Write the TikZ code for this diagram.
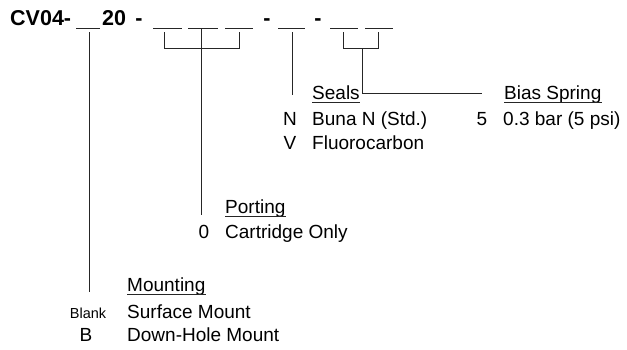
\documentclass[tikz,border=0pt]{standalone}
\usepackage{fontspec}
\setmainfont{Liberation Sans}
\usetikzlibrary{positioning, calc}

\tikzset{
  codetxt/.style={font=\fontsize{21.5}{21.5}\selectfont\bfseries, inner sep=0pt, anchor=base west},
  optxt/.style={font=\fontsize{19}{19}\selectfont, inner sep=0pt, anchor=base west},
  keytxt/.style={font=\fontsize{19}{19}\selectfont, inner sep=0pt, anchor=base},
  blanktxt/.style={font=\fontsize{14.5}{14.5}\selectfont, inner sep=0pt, anchor=base},
  leader/.style={line width=0.9pt, black!85},
  slot/.style={line width=0.9pt, black!85}
}

\begin{document}
\begin{tikzpicture}[x=1pt, y=-1pt]
          \useasboundingbox (0,0) rectangle (627,349);

          % Codigo del modelo
          \node[codetxt] (cv) at (10,25) {CV04-};
          \node[codetxt] (num) at (102,25) {20};
          \node[codetxt, anchor=base] (da) at (139,25) {-};
          \node[codetxt, anchor=base] (db) at (267,25) {-};
          \node[codetxt, anchor=base] (dc) at (318,25) {-};

          % Casillas
          \foreach \a/\b [count=\i] in {76/100, 153/182, 188/218, 225/253, 278/305, 330/358, 365/393}
            \draw[slot] (\a,28) coordinate (s\i l) -- (\b,28) coordinate (s\i r);

          % Montaje
          \coordinate (mtop) at (89,32);
          \coordinate (mbot) at (89,292);
          \draw[leader] (mtop) -- (mbot);

          % Conexiones
          \draw[leader] (164,32) coordinate (pl) |- (239,48) coordinate (pr) -- (239,32);
          \coordinate (ptop) at (201,28);
          \coordinate (pbot) at (201,215);
          \draw[leader] (ptop) -- (pbot);

          % Juntas
          \coordinate (stop) at (292,32);
          \coordinate (sbot) at (292,95);
          \draw[leader] (stop) -- (sbot);

          % Resorte
          \draw[leader] (343,32) coordinate (bl) |- (378,48) coordinate (br) -- (378,32);
          \coordinate (bmid) at (362,48);
          \coordinate (bend) at (482,93);
          \draw[leader] (bmid) |- (bend);

          % Textos: juntas
          \node[optxt] (sealsH) at (312,99) {Seals};
          \draw[leader] ([yshift=-3]sealsH.base west) -- ([yshift=-3]sealsH.base east);
          \node[keytxt] (sealN) at (290,125) {N};
          \node[optxt] (sealNt) at (312,125) {Buna N (Std.)};
          \node[keytxt] (sealV) at (290,149) {V};
          \node[optxt] (sealVt) at (312,149) {Fluorocarbon};

          % Textos: resorte
          \node[optxt] (biasH) at (504,99) {Bias Spring};
          \draw[leader] ([yshift=-3]biasH.base west) -- ([yshift=-3]biasH.base east);
          \node[keytxt] (bias5) at (482,125) {5};
          \node[optxt] (bias5t) at (503,125) {0.3 bar (5 psi)};

          % Textos: conexiones
          \node[optxt] (portH) at (225,213) {Porting};
          \draw[leader] ([yshift=-3]portH.base west) -- ([yshift=-3]portH.base east);
          \node[keytxt] (port0) at (204,238) {0};
          \node[optxt] (port0t) at (225,238) {Cartridge Only};

          % Textos: montaje
          \node[optxt] (mountH) at (127,291) {Mounting};
          \draw[leader] ([yshift=-3]mountH.base west) -- ([yshift=-3]mountH.base east);
          \node[blanktxt] (mountA) at (88,318) {Blank};
          \node[optxt] (mountAt) at (127,318) {Surface Mount};
          \node[keytxt] (mountB) at (86,341) {B};
          \node[optxt] (mountBt) at (127,341) {Down-Hole Mount};
        \end{tikzpicture}
\end{document}
